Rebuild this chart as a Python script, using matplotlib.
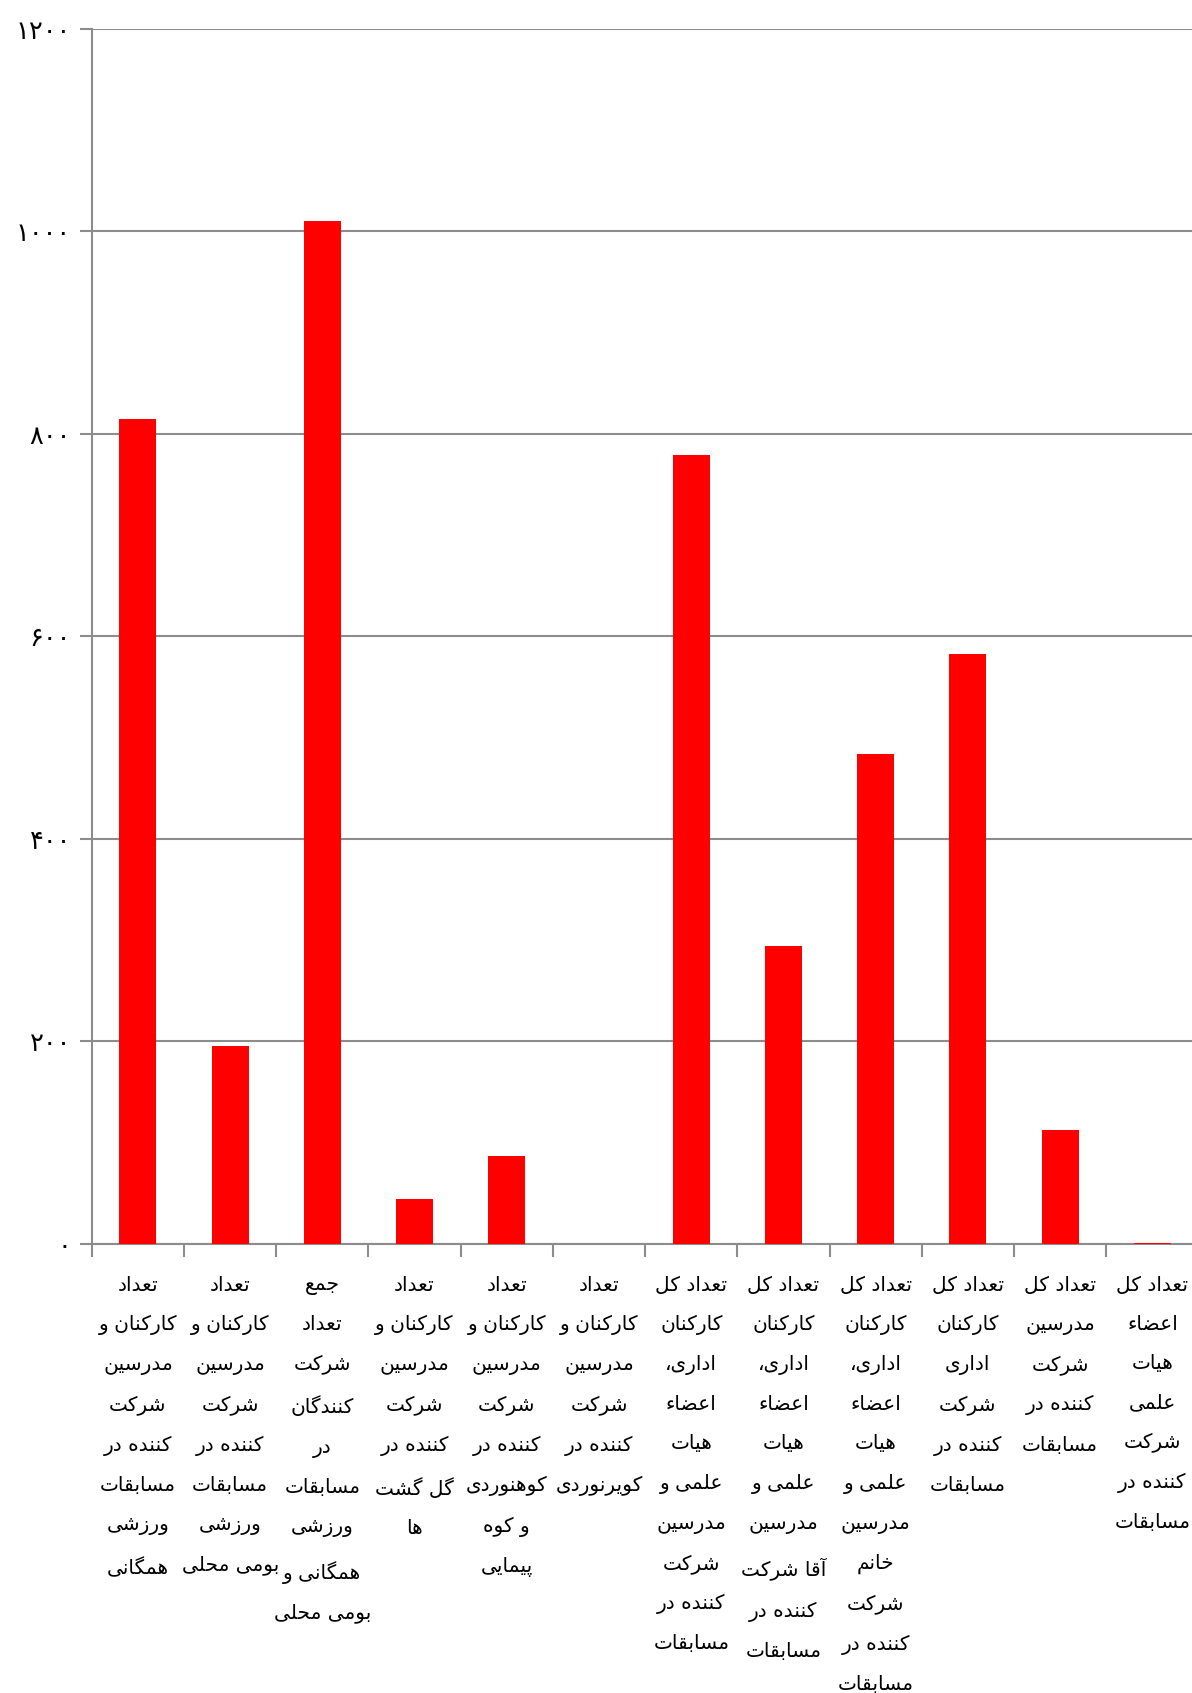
import matplotlib
matplotlib.use("Agg")
import matplotlib.pyplot as plt
from matplotlib.ticker import FixedLocator, FuncFormatter

# ---------------- data ----------------
categories = [
    "تعداد\nکارکنان و\nمدرسین\nشرکت\nکننده در\nمسابقات\nورزشی\nهمگانی",
    "تعداد\nکارکنان و\nمدرسین\nشرکت\nکننده در\nمسابقات\nورزشی\nبومی محلی",
    "جمع\nتعداد\nشرکت\nکنندگان\nدر\nمسابقات\nورزشی\nهمگانی و\nبومی محلی",
    "تعداد\nکارکنان و\nمدرسین\nشرکت\nکننده در\nگل گشت\nها",
    "تعداد\nکارکنان و\nمدرسین\nشرکت\nکننده در\nکوهنوردی\nو کوه\nپیمایی",
    "تعداد\nکارکنان و\nمدرسین\nشرکت\nکننده در\nکویرنوردی",
    "تعداد کل\nکارکنان\nاداری،\nاعضاء\nهیات\nعلمی و\nمدرسین\nشرکت\nکننده در\nمسابقات",
    "تعداد کل\nکارکنان\nاداری،\nاعضاء\nهیات\nعلمی و\nمدرسین\nآقا شرکت\nکننده در\nمسابقات",
    "تعداد کل\nکارکنان\nاداری،\nاعضاء\nهیات\nعلمی و\nمدرسین\nخانم\nشرکت\nکننده در\nمسابقات",
    "تعداد کل\nکارکنان\nاداری\nشرکت\nکننده در\nمسابقات",
    "تعداد کل\nمدرسین\nشرکت\nکننده در\nمسابقات",
    "تعداد کل\nاعضاء\nهیات\nعلمی\nشرکت\nکننده در\nمسابقات",
]
values = [815, 195, 1010, 44, 87, 0, 779, 294, 484, 582, 112, 1]
y_ticks = [0, 200, 400, 600, 800, 1000, 1200]

# ---------------- Arabic/Persian shaping (for display only) ----------------
# (isolated, final, initial, medial)
FORMS = {
    '\u0621': ('\uFE80', None, None, None),
    '\u0622': ('\uFE81', '\uFE82', None, None),
    '\u0627': ('\uFE8D', '\uFE8E', None, None),
    '\u0628': ('\uFE8F', '\uFE90', '\uFE91', '\uFE92'),
    '\u0629': ('\uFE93', '\uFE94', None, None),
    '\u062A': ('\uFE95', '\uFE96', '\uFE97', '\uFE98'),
    '\u062B': ('\uFE99', '\uFE9A', '\uFE9B', '\uFE9C'),
    '\u062C': ('\uFE9D', '\uFE9E', '\uFE9F', '\uFEA0'),
    '\u062D': ('\uFEA1', '\uFEA2', '\uFEA3', '\uFEA4'),
    '\u062E': ('\uFEA5', '\uFEA6', '\uFEA7', '\uFEA8'),
    '\u062F': ('\uFEA9', '\uFEAA', None, None),
    '\u0630': ('\uFEAB', '\uFEAC', None, None),
    '\u0631': ('\uFEAD', '\uFEAE', None, None),
    '\u0632': ('\uFEAF', '\uFEB0', None, None),
    '\u0633': ('\uFEB1', '\uFEB2', '\uFEB3', '\uFEB4'),
    '\u0634': ('\uFEB5', '\uFEB6', '\uFEB7', '\uFEB8'),
    '\u0635': ('\uFEB9', '\uFEBA', '\uFEBB', '\uFEBC'),
    '\u0636': ('\uFEBD', '\uFEBE', '\uFEBF', '\uFEC0'),
    '\u0637': ('\uFEC1', '\uFEC2', '\uFEC3', '\uFEC4'),
    '\u0638': ('\uFEC5', '\uFEC6', '\uFEC7', '\uFEC8'),
    '\u0639': ('\uFEC9', '\uFECA', '\uFECB', '\uFECC'),
    '\u063A': ('\uFECD', '\uFECE', '\uFECF', '\uFED0'),
    '\u0641': ('\uFED1', '\uFED2', '\uFED3', '\uFED4'),
    '\u0642': ('\uFED5', '\uFED6', '\uFED7', '\uFED8'),
    '\u0643': ('\uFED9', '\uFEDA', '\uFEDB', '\uFEDC'),
    '\u0644': ('\uFEDD', '\uFEDE', '\uFEDF', '\uFEE0'),
    '\u0645': ('\uFEE1', '\uFEE2', '\uFEE3', '\uFEE4'),
    '\u0646': ('\uFEE5', '\uFEE6', '\uFEE7', '\uFEE8'),
    '\u0647': ('\uFEE9', '\uFEEA', '\uFEEB', '\uFEEC'),
    '\u0648': ('\uFEED', '\uFEEE', None, None),
    '\u0649': ('\uFEEF', '\uFEF0', None, None),
    '\u064A': ('\uFEF1', '\uFEF2', '\uFEF3', '\uFEF4'),
    '\u067E': ('\uFB56', '\uFB57', '\uFB58', '\uFB59'),
    '\u0686': ('\uFB7A', '\uFB7B', '\uFB7C', '\uFB7D'),
    '\u0698': ('\uFB8A', '\uFB8B', None, None),
    '\u06A9': ('\uFB8E', '\uFB8F', '\uFB90', '\uFB91'),
    '\u06AF': ('\uFB92', '\uFB93', '\uFB94', '\uFB95'),
    '\u06CC': ('\uFBFC', '\uFBFD', '\uFBFE', '\uFBFF'),
}


def _dual(c):
    return c in FORMS and FORMS[c][2] is not None


def _joinable(c):
    return c in FORMS and FORMS[c][1] is not None


def shape_line(s):
    out = []
    n = len(s)
    for i, c in enumerate(s):
        if c not in FORMS:
            out.append(c)
            continue
        iso, fin, ini, med = FORMS[c]
        p = s[i - 1] if i > 0 else None
        nx = s[i + 1] if i < n - 1 else None
        jp = p is not None and _dual(p) and fin is not None
        jn = nx is not None and _joinable(nx) and ini is not None
        if jp and jn:
            out.append(med)
        elif jp:
            out.append(fin)
        elif jn:
            out.append(ini)
        else:
            out.append(iso)
    return ''.join(reversed(out))


def shape(text):
    return '\n'.join(shape_line(l) for l in text.split('\n'))


PERSIAN_DIGITS = str.maketrans('0123456789', '۰۱۲۳۴۵۶۷۸۹')


def fa_num(v, pos=None):
    return str(int(round(v))).translate(PERSIAN_DIGITS)


# ---------------- figure ----------------
plt.rcParams['font.family'] = ['DejaVu Sans']
W, H = 1192, 1693
fig = plt.figure(figsize=(W / 100, H / 100), dpi=100)
fig.patch.set_facecolor('white')

x0, x1 = 91.8, 1198.5
y_top, y_zero = 28.7, 1243.7
ax = fig.add_axes([x0 / W, 1 - y_zero / H, (x1 - x0) / W, (y_zero - y_top) / H])

gray = '#8c8c8c'
xs = list(range(len(values)))
ax.bar(xs, values, width=0.4, color='#ff0000', zorder=3)

ax.set_xlim(-0.5, len(values) - 0.5)
ax.set_ylim(0, 1200)

ax.yaxis.set_major_locator(FixedLocator(y_ticks))
ax.yaxis.set_major_formatter(FuncFormatter(fa_num))
ax.grid(axis='y', color=gray, linewidth=1.5, zorder=0)
ax.set_axisbelow(True)

# category boundaries as major ticks, labels as minor ticks
ax.xaxis.set_major_locator(FixedLocator([i - 0.5 for i in range(len(values) + 1)]))
ax.xaxis.set_major_formatter(FuncFormatter(lambda v, p: ''))
ax.xaxis.set_minor_locator(FixedLocator(xs))
ax.set_xticklabels([shape(c) for c in categories], minor=True,
                   fontsize=14.5, linespacing=2.34, va='top', ha='center')
ax.tick_params(axis='x', which='major', length=9, width=1.5, color=gray, direction='out')
ax.tick_params(axis='x', which='minor', length=0, pad=23)
ax.tick_params(axis='y', which='major', length=9, width=1.5, color=gray, direction='out',
               labelsize=18.5, pad=6)

for side in ['top', 'right']:
    ax.spines[side].set_visible(False)
for side in ['left', 'bottom']:
    ax.spines[side].set_color(gray)
    ax.spines[side].set_linewidth(1.5)

fig.savefig('out.png', dpi=100, facecolor='white')
